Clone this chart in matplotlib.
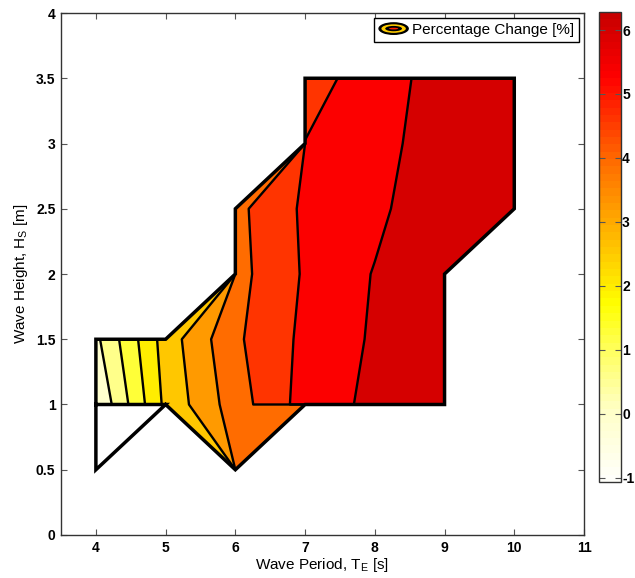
import matplotlib
matplotlib.use("Agg")
import matplotlib.pyplot as plt
import numpy as np
from matplotlib.colors import LinearSegmentedColormap, Normalize
from matplotlib.legend_handler import HandlerBase
from matplotlib.patches import Ellipse, Patch
import matplotlib.cm as cm

plt.rcParams['font.family'] = ['Liberation Sans', 'DejaVu Sans']
plt.rcParams['axes.unicode_minus'] = False

# sea state grid
T = [4, 5, 6, 7, 8, 9, 10]
H = [0.5, 1.0, 1.5, 2.0, 2.5, 3.0, 3.5]
nan = np.nan
# percentage change, rows = H, cols = T
pct_change = [
    [-1.07, 2.40, 3.80, 3.90, nan, nan, nan],
    [-0.37, 2.43, 3.95, 5.22, 5.78, 6.00, nan],
    [0.12, 2.57, 4.16, 5.10, 5.70, 5.95, nan],
    [nan, 2.60, 4.04, 5.02, 5.65, 6.00, 6.10],
    [nan, nan, 4.09, 5.06, 5.45, 6.15, 6.20],
    [nan, nan, 4.10, 4.96, 5.40, 5.93, 6.20],
    [nan, nan, nan, 4.65, 5.28, 5.91, 6.28],
]
# grid nodes that sit on top of a neighbouring node (row, col) -> (row, col)
collapsed = {(0, 1): (0, 2), (0, 3): (1, 3), (3, 1): (3, 2),
             (5, 2): (5, 3), (3, 6): (4, 6)}
# nodes kept for the colour range but left blank
blank = [(0, 0)]

# outline of the sea state domain
outline_T = [4, 5, 4, 4, 5, 6, 6, 7, 7, 10, 10, 9, 9, 7, 6, 5]
outline_H = [1, 1, 0.5, 1.5, 1.5, 2, 2.5, 3, 3.5, 3.5, 2.5, 2, 1, 1, 0.5, 1]

Z = np.array(pct_change, dtype=float)
X, Y = np.meshgrid(np.array(T, float), np.array(H, float))
for (r, c), (r2, c2) in collapsed.items():
    X[r, c] = X[r2, c2]
    Y[r, c] = Y[r2, c2]
zmin, zmax = np.nanmin(Z), np.nanmax(Z)
Zm = Z.copy()
for r, c in blank:
    Zm[r, c] = nan
Zm = np.ma.masked_invalid(Zm)

levels = np.linspace(zmin, zmax, 12)[1:-1]
fill_levels = list(levels) + [zmax]

anchors = [(-1.07, (255, 255, 250)), (0.0, (255, 255, 200)), (1.0, (255, 255, 90)),
           (1.7, (255, 255, 0)), (2.0, (255, 235, 0)), (3.0, (255, 170, 0)),
           (4.0, (255, 105, 0)), (4.8, (255, 40, 0)), (5.3, (255, 0, 0)),
           (6.28, (200, 0, 0))]
pos = [(a - anchors[0][0]) / (anchors[-1][0] - anchors[0][0]) for a, _ in anchors]
cmap = LinearSegmentedColormap.from_list(
    'pc', list(zip(pos, [tuple(v / 255 for v in col) for _, col in anchors])), N=64)
norm = Normalize(vmin=zmin, vmax=zmax)

fig = plt.figure(figsize=(6.35, 5.78), dpi=100)
ax = fig.add_axes([0.0961, 0.0744, 0.8236, 0.9031])
cax = fig.add_axes([0.943, 0.166, 0.0346, 0.813])

ax.contourf(X, Y, Zm, levels=fill_levels, cmap=cmap, norm=norm, corner_mask=False)
ax.contour(X, Y, Zm, levels=levels, colors='k', linewidths=1.7, corner_mask=False)
ax.plot(outline_T, outline_H, color='k', lw=2.5, solid_joinstyle='miter')

ax.set_xlim(3.5, 11)
ax.set_ylim(0, 4)
ax.set_xticks(range(4, 12))
ax.set_yticks(np.arange(0, 4.01, 0.5))
ax.set_yticklabels(['%g' % v for v in np.arange(0, 4.01, 0.5)])
ax.tick_params(direction='in', top=True, right=True, length=4, width=0.8,
               labelsize=10, color='#555555', pad=4)
for lab in ax.get_xticklabels() + ax.get_yticklabels():
    lab.set_fontweight('bold')
for s in ax.spines.values():
    s.set_linewidth(1.0)
    s.set_color('#333333')
ax.set_xlabel('Wave Period, T$_\\mathregular{E}$ [s]', fontsize=11, labelpad=1)
ax.set_ylabel('Wave Height, H$_\\mathregular{S}$ [m]', fontsize=11, labelpad=4)


class ContourIcon(HandlerBase):
    def create_artists(self, legend, orig_handle, xdescent, ydescent,
                       width, height, fontsize, trans):
        cx = width / 2 - xdescent
        cy = height / 2 - ydescent
        out = []
        for w, h, fc in [(1.0, 1.2, 'black'), (0.8, 0.8, '#ffcc00'),
                         (0.55, 0.5, 'black'), (0.3, 0.16, '#ff2000')]:
            out.append(Ellipse((cx, cy), width * w, height * h, facecolor=fc,
                               edgecolor='none', transform=trans))
        return out


leg = ax.legend([Patch()], ['Percentage Change [%]'], handler_map={Patch: ContourIcon()},
                loc='upper right', fontsize=11, fancybox=False, framealpha=1,
                edgecolor='black', borderaxespad=0.35, handlelength=2.0,
                handletextpad=0.2, borderpad=0.3)
leg.get_frame().set_linewidth(1.0)

sm = cm.ScalarMappable(norm=norm, cmap=cmap)
cb = fig.colorbar(sm, cax=cax)
cb.set_ticks(range(-1, 7))
cb.ax.tick_params(direction='in', length=4, width=0.8, labelsize=10, left=True,
                  right=True, color='#555555', pad=1)
for lab in cb.ax.get_yticklabels():
    lab.set_fontweight('bold')
cb.outline.set_linewidth(1.0)
cb.outline.set_edgecolor('#333333')

fig.savefig('out.png', dpi=100)
